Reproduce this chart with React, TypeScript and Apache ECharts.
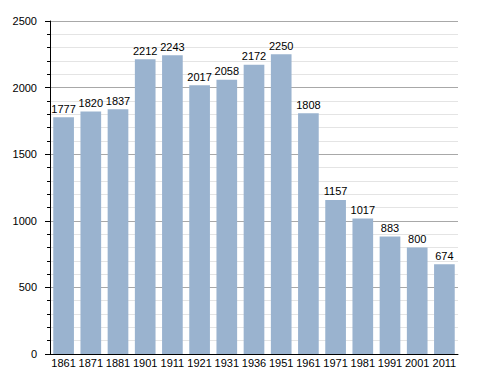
import React, { useEffect, useRef } from "react";
import * as echarts from "echarts";

const categories = ["1861", "1871", "1881", "1901", "1911", "1921", "1931", "1936", "1951", "1961", "1971", "1981", "1991", "2001", "2011"];
const population = [1777, 1820, 1837, 2212, 2243, 2017, 2058, 2172, 2250, 1808, 1157, 1017, 883, 800, 674];

export default function App() {
  const ref = useRef<HTMLDivElement>(null);
  useEffect(() => {
    const chart = echarts.init(ref.current!, null, { renderer: "svg" });
    chart.setOption({
      animation: false,
      textStyle: { fontFamily: "Liberation Sans, Arial, sans-serif" },
      grid: { left: 50, right: 30, top: 21, bottom: 19, containLabel: false },
      xAxis: {
        type: "category",
        data: categories,
        axisLine: { show: true, lineStyle: { color: "#000", width: 1 } },
        axisTick: { show: false },
        axisLabel: { color: "#000", fontSize: 11, margin: 3, interval: 0 },
      },
      yAxis: {
        type: "value",
        min: 0,
        max: 2500,
        interval: 500,
        axisLine: { show: true, lineStyle: { color: "#000", width: 1 } },
        axisTick: { show: true, length: 5, lineStyle: { color: "#000" } },
        minorTick: { show: true, splitNumber: 5, length: 3, lineStyle: { color: "#000" } },
        axisLabel: { color: "#000", fontSize: 11, margin: 13, formatter: (v: number) => String(v) },
        splitLine: { show: true, lineStyle: { color: "#a8a8a8", width: 1 } },
        minorSplitLine: { show: true, lineStyle: { color: "#e4e4e4", width: 1 } },
      },
      series: [
        {
          type: "bar",
          data: population,
          barCategoryGap: "24%",
          itemStyle: { color: "#9ab3cf" },
          label: { show: true, position: "top", color: "#000", fontSize: 11, distance: 3 },
        },
      ],
    });
    return () => chart.dispose();
  }, []);
  return <div ref={ref} style={{ position: "absolute", left: 0, top: 0, width: 488, height: 373 }} />;
}
